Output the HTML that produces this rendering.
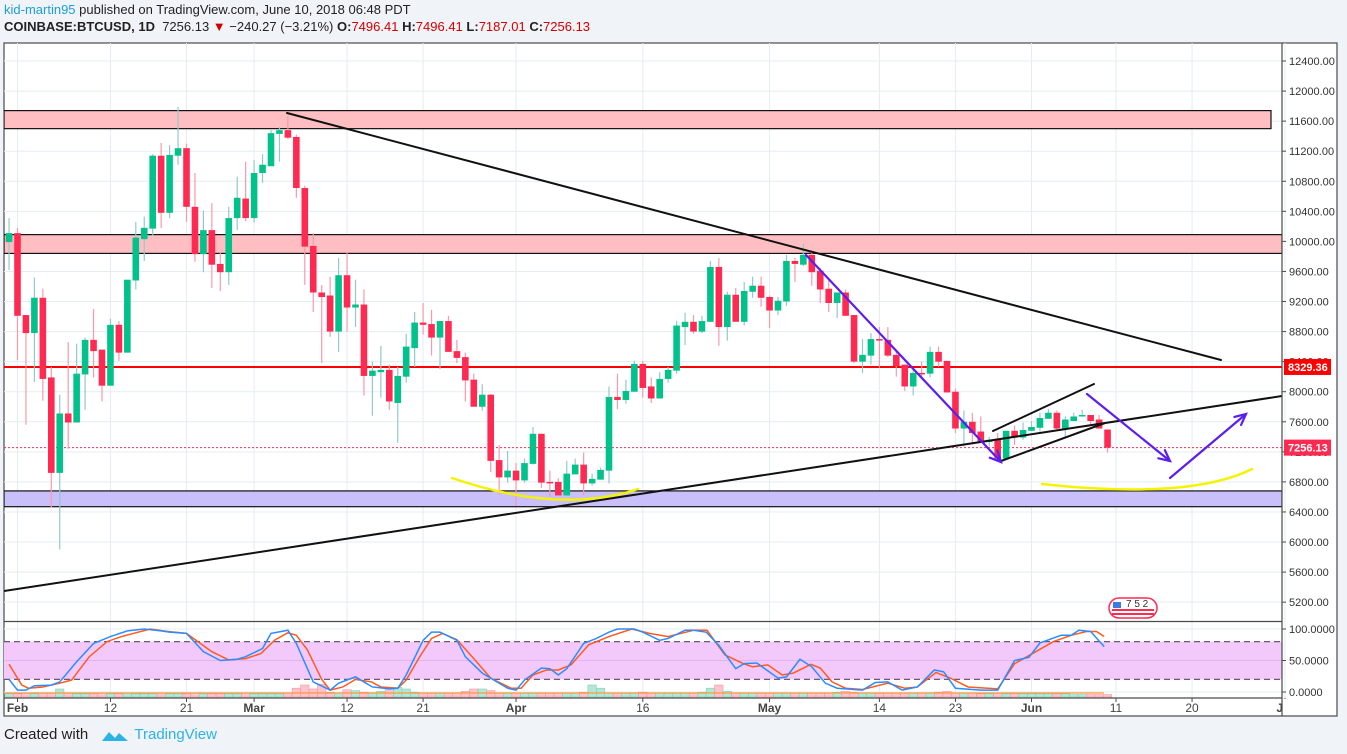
<!DOCTYPE html>
<html><head><meta charset="utf-8">
<style>
html,body{margin:0;padding:0;background:#f0f3f7;width:1347px;height:754px;overflow:hidden;font-family:"Liberation Sans",sans-serif;}
#hdr1{position:absolute;left:4px;top:2px;font-size:13px;color:#222;white-space:nowrap;}
#hdr2{position:absolute;left:4px;top:19px;font-size:13px;color:#222;white-space:nowrap;}
.red{color:#d40000}
#foot{position:absolute;left:4px;top:726px;font-size:15px;color:#222;}
svg{position:absolute;left:0;top:0}
</style></head><body>
<div id="hdr1"><span style="color:#1a9fd9">kid-martin95</span> published on TradingView.com, June 10, 2018 06:48 PDT</div>
<div id="hdr2"><b>COINBASE:BTCUSD, 1D</b>&nbsp; 7256.13 <span class="red">&#9660;</span> −240.27 (−3.21%) <b>O:</b><span class="red">7496.41</span> <b>H:</b><span class="red">7496.41</span> <b>L:</b><span class="red">7187.01</span> <b>C:</b><span class="red">7256.13</span></div>
<div id="foot">Created with <span style="display:inline-block;width:26px;height:12px;vertical-align:middle;margin:0 6px 0 10px;"><svg width="26" height="12" style="position:static"><path d="M0 11 L7 2 L13 8 L17 3 L26 11 Z" fill="#2cb3e6"/></svg></span><span style="color:#2cb3e6">TradingView</span></div>
<svg id="chart" width="1347" height="754"></svg>
<script>
const O=[9990,10110,9020,8780,9250,8190,6920,7710,7590,8230,8690,8560,8080,8890,8520,9480,10030,10170,11140,10380,11140,11240,10460,9830,10150,9700,9590,10310,10570,10310,10910,11000,11430,11480,11390,10710,9940,9320,9280,8800,9550,9120,9160,8210,8260,8290,7850,8200,8580,8920,8900,8720,8940,8540,8460,8160,7800,7960,7090,6860,6950,6820,7040,7440,6800,6800,6620,6900,7030,6780,6830,6950,7930,7890,8000,8370,8070,7910,8170,8280,8860,8930,8800,8930,9660,8860,9290,8930,9330,9410,9260,9080,9200,9740,9690,9820,9610,9370,9180,9320,9020,8400,8480,8700,8690,8490,8360,8070,8250,8240,8530,8410,8000,7510,7600,7470,7330,7360,7110,7480,7390,7480,7520,7640,7720,7510,7610,7670,7690,7630,7496.41];
const H=[10310,10180,9020,9520,9370,8330,7960,8660,8640,8720,9100,8560,8970,8940,9490,10260,10330,11160,11310,11280,11790,11300,10910,10410,10510,9860,10460,10860,11060,11080,11160,11480,11520,11660,11420,10740,10110,9420,9530,9780,9860,9490,9360,8400,8610,8360,8330,8770,9060,9180,9090,8940,9010,8690,8520,8240,8100,7970,7290,7210,7050,7110,7530,7440,6950,6850,7080,7110,7190,6910,6990,8070,8240,8160,8410,8410,8190,8260,8330,8940,9050,9020,9010,9740,9780,9330,9380,9460,9530,9530,9280,9260,9820,9780,9970,9890,9650,9480,9320,9360,9020,8700,8780,8860,8860,8530,8360,8290,8400,8600,8600,8410,8040,7750,7720,7670,7400,7450,7480,7550,7590,7610,7720,7770,7750,7670,7720,7760,7690,7690,7496.41];
const L=[9620,8420,7560,8130,7880,6460,5900,7240,7590,7760,8190,7870,8080,8410,8520,9360,9740,10070,10180,10310,11020,10260,9730,9590,9380,9340,9420,10150,10270,10250,10780,11000,11060,11360,10580,9420,9060,8380,8730,8530,8800,8860,7950,7680,7920,7760,7320,8120,8330,8760,8480,8300,8530,8380,7870,7800,7750,6930,6630,6790,6480,6790,7030,6720,6600,6620,6620,6900,6620,6750,6830,6780,7770,7840,8000,7920,7850,7910,8120,8240,8620,8770,8780,8930,8610,8680,8930,8880,9250,9130,8850,9020,9140,9460,9670,9410,9180,9060,8980,9010,8380,8250,8360,8320,8460,8200,8010,7950,8190,8190,8330,7990,7450,7270,7320,7320,7270,7110,7090,7290,7360,7480,7470,7640,7490,7400,7610,7670,7550,7510,7187.01];
const C=[10110,9010,8780,9250,8170,6920,7710,7590,8240,8690,8540,8080,8890,8520,9490,10050,10180,11140,10380,11150,11240,10460,9830,10150,9690,9590,10310,10580,10310,10910,11020,11440,11480,11380,10710,9930,9320,9260,8800,9550,9120,9160,8210,8280,8290,7870,8210,8600,8920,8890,8720,8940,8530,8450,8150,7800,7960,7080,6860,6950,6820,7050,7440,6790,6790,6620,6910,7030,6780,6840,6960,7930,7890,8010,8370,8050,7910,8170,8290,8880,8930,8800,8940,9660,8860,9290,8930,9340,9410,9250,9080,9210,9740,9700,9820,9590,9360,9180,9320,9010,8400,8490,8700,8680,8480,8340,8070,8250,8240,8530,8400,7990,7510,7600,7450,7330,7360,7110,7480,7390,7490,7530,7650,7720,7510,7630,7670,7690,7610,7510,7256.13];
const VOL=[8,8,10,8,10,10,20,10,8,8,8,10,8,8,10,8,8,8,10,8,8,8,10,8,8,8,8,8,10,8,8,8,8,10,22,30,20,32,12,10,18,16,12,10,14,20,24,20,12,10,10,10,10,10,14,20,20,16,10,10,10,10,10,10,10,10,10,10,12,30,22,10,10,10,10,12,10,10,10,10,10,10,12,22,30,14,10,10,10,10,10,10,10,10,10,10,10,10,12,14,12,10,10,10,10,10,10,10,10,10,12,14,10,10,10,8,8,10,8,8,8,8,8,8,8,8,6,6,6,6,6];
const FIRST_DAY=-1;
const kDay=[-1,0,1,2,4,5,7,9,11,13,15,17,18,20,22,24,26,27,29,30,32,33,35,37,38,40,41,42,44,45,46,48,49,50,52,53,55,58,59,60,62,63,64,65,67,68.5,70,71,73,74,76,77,79,80,81.5,83,85,86,87.5,90,91,92.6,94,95.6,97,100,101.5,103,104.7,106.5,108.5,109.6,111,114,116,118,119.7,121,123.5,124.7,125.6,127,128.6];
const kVal=[20,3,3,10,11,16,48,77,88,97,100,97,95,93,64,50,52,56,69,93,98,77,16,3,14,24,16,8,5,6,27,82,95,95,82,56,30,6,3,19,38,37,27,37,77,85,95,100,100,95,82,85,98,98,95,74,37,45,46,22,24,52,40,14,6,3,15,16,3,8,35,32,6,3,3,50,55,78,90,90,98,96,72];
const dDay=[-1,0.5,1.3,3,5,6.4,8.5,10.6,12.3,15.7,17.8,20,23,25,27,28.8,30.5,32,33,34.3,36,37,38.5,40,41.9,43,45,46,47.6,49,50.3,52,54,56,58.4,59.6,61,62.6,64,65.5,67.6,70,72.7,74.8,77,80,81.6,83.7,85.9,87,88.8,90.5,91.8,93.9,95,96.4,98,100,103,105,106.5,108.7,110.4,112.5,116,118,120.5,122.6,124.7,126.5,127.7,128.6];
const dVal=[44,11,6,8,14,19,56,80,88,100,96,93,64,51,53,61,83,94,90,67,20,3,8,20,16,8,6,19,56,85,93,83,53,22,6,6,27,35,35,43,75,88,100,93,88,98,98,59,45,40,43,27,30,44,38,16,6,4,14,6,8,31,22,8,5,45,64,80,90,96,96,88];
const priceTicks=[12400,12000,11600,11200,10800,10400,10000,9600,9200,8800,8400,8000,7600,7200,6800,6400,6000,5600,5200];
const xLabels=["Feb","12","21","Mar","12","21","Apr","16","May","14","23","Jun","11","20","Jul"];
const xLabelDays=[0,11,20,28,39,48,59,74,89,102,111,120,130,139,150];
const xLabelBold=[1,0,0,1,0,0,1,0,1,0,0,1,0,0,1];
const zones=[[11500,11740,'#ffbcbf',1271],[9840,10090,'#ffbcbf',1282],[6470,6680,'#c6bcfb',1282]];
const resistance=8329.36, lastPrice=7256.13;

const NS='http://www.w3.org/2000/svg';
const svg=document.getElementById('chart');
const yP=p=>61+(12400-p)*0.07516;
const xD=d=>17.5+d*8.45;
const yS=v=>692-v*0.63;
function el(tag,attrs,parent){const e=document.createElementNS(NS,tag);for(const k in attrs)e.setAttribute(k,attrs[k]);(parent||svg).appendChild(e);return e;}

const frame=el('rect',{x:4,y:43,width:1333,height:673,fill:'#fff',stroke:'#4a4a4a','stroke-width':1.2});


const defs=el('defs',{});
const cp=el('clipPath',{id:'mainclip'},defs);el('rect',{x:4,y:43,width:1278,height:578},cp);
const cp2=el('clipPath',{id:'indclip'},defs);el('rect',{x:4,y:622,width:1278,height:76},cp2);

const grid=el('g',{stroke:'#e3edf3','stroke-width':1});


priceTicks.forEach(p=>{el('line',{x1:4,x2:1282,y1:yP(p),y2:yP(p)},grid);});
[629,661,692].forEach(y=>el('line',{x1:4,x2:1282,y1:y,y2:y},grid));
xLabelDays.forEach(d=>{el('line',{x1:xD(d),x2:xD(d),y1:43,y2:698},grid);});

const main=el('g',{'clip-path':'url(#mainclip)'});
zones.forEach((z,i)=>{
  const r=el('rect',{x:4,y:yP(z[1]),width:z[3]-4,height:yP(z[0])-yP(z[1]),fill:z[2],'fill-opacity':0.95,stroke:'#111','stroke-width':1.2},main);
  
  
});
const rl=el('line',{x1:4,x2:1282,y1:yP(resistance),y2:yP(resistance),stroke:'#ff0000','stroke-width':2},main);


const pl=el('line',{x1:4,x2:1282,y1:yP(lastPrice),y2:yP(lastPrice),stroke:'#ff2b51','stroke-width':1,'stroke-dasharray':'2,2'},main);



const cg=el('g',{},main);


for(let i=0;i<O.length;i++){
  const x=xD(FIRST_DAY+i), up=C[i]>=O[i];
  const w=el('line',{x1:x,x2:x,y1:yP(H[i]),y2:yP(L[i]),stroke:up?'#93c8cd':'#f79aab','stroke-width':1.2},cg);
  
  
  const t=yP(Math.max(O[i],C[i])), b=yP(Math.min(O[i],C[i]));
  const r=el('rect',{x:x-3.3,y:t,width:6.6,height:Math.max(1.5,b-t),fill:up?'#00c28a':'#ff2a52'},cg);
  
  
}
const dr=el('g',{fill:'none','stroke-linecap':'round'},main);


function ln(x1,y1,x2,y2,c,w,name){const l=el('line',{x1,y1,x2,y2,stroke:c,'stroke-width':w},dr);return l;}
ln(287,113,1221,360,'#111',2,'downtrend-line');
ln(4,591,1282,396,'#111',2,'uptrend-line');
ln(993,431,1094,384,'#111',2,'channel-upper');
ln(1001,461,1105,423,'#111',2,'channel-lower');
const blue='#5a1ef0';
function arrow(x1,y1,x2,y2,name){ln(x1,y1,x2,y2,blue,2.2,name);const a=Math.atan2(y2-y1,x2-x1),s=12;
  const p=el('path',{d:`M${x2-s*Math.cos(a-0.45)} ${y2-s*Math.sin(a-0.45)} L${x2} ${y2} L${x2-s*Math.cos(a+0.45)} ${y2-s*Math.sin(a+0.45)}`,stroke:blue,'stroke-width':2.2},dr);
  }
arrow(806,255,1001,462,'drop-arrow');
arrow(1087,394,1170,461,'projection-down-arrow');
arrow(1170,478,1246,414,'projection-up-arrow');
const y1=el('path',{d:'M452 478 Q 560 515 638 489',stroke:'#f4f400','stroke-width':2.5},dr);


const y2=el('path',{d:'M1042 484 Q 1190 500 1252 469',stroke:'#f4f400','stroke-width':2.5},dr);


const fl=el('g',{},main);


el('rect',{x:1109,y:598,width:48,height:20,rx:10,fill:'#fff',stroke:'#ff2a52','stroke-width':1.5},fl);
el('rect',{x:1113,y:602,width:8,height:6,fill:'#3d7be0'},fl);
el('path',{d:'M1112 610 H1154 M1112 614 H1154',stroke:'#ff2a52','stroke-width':2},fl);
const ft=el('text',{x:1126,y:607,'font-size':10,fill:'#333','font-family':'Liberation Sans, sans-serif'},fl);ft.textContent='7 5 2';

el('line',{x1:4,x2:1282,y1:621.5,y2:621.5,stroke:'#4a4a4a','stroke-width':1.2});

const ind=el('g',{'clip-path':'url(#indclip)'});


el('rect',{x:4,y:yS(80),width:1278,height:yS(20)-yS(80),fill:'#f3c9fb'},ind);
el('line',{x1:4,x2:1282,y1:yS(50),y2:yS(50),stroke:'#dcb6f0','stroke-width':1},ind);
[80,20].forEach(v=>el('line',{x1:4,x2:1282,y1:yS(v),y2:yS(v),stroke:'#6a5a70','stroke-width':1.2,'stroke-dasharray':'6,4'},ind));
for(let i=0;i<VOL.length;i++){
  const up=C[i]>=O[i],h=VOL[i]*0.4;
  const r=el('rect',{x:xD(FIRST_DAY+i)-4.2,y:697-h,width:8.4,height:h,fill:up?'#a8e3cf':'#ffb8c2',stroke:up?'#7fd3b5':'#f597a6','stroke-width':0.6,'fill-opacity':0.85},ind);
  
  
}
el('line',{x1:4,x2:1104,y1:693,y2:693,stroke:'#ff9a3c','stroke-width':1.2},ind);
function poly(days,vals,color,name){const p=el('polyline',{points:days.map((d,i)=>xD(d)+','+yS(vals[i])).join(' '),fill:'none',stroke:color,'stroke-width':1.5},ind);}
poly(dDay,dVal,'#ff5a1f','stoch-d-line');
poly(kDay,kVal,'#2b8cff','stoch-k-line');

el('line',{x1:1282,x2:1282,y1:43,y2:716,stroke:'#4a4a4a','stroke-width':1.2});
el('line',{x1:4,x2:1282,y1:698,y2:698,stroke:'#4a4a4a','stroke-width':1.2});
const ax=el('g',{'font-family':'Liberation Sans, sans-serif','font-size':11,fill:'#333'});


priceTicks.forEach(p=>{el('line',{x1:1282,x2:1286,y1:yP(p),y2:yP(p),stroke:'#4a4a4a'},ax);const t=el('text',{x:1289,y:yP(p)+4},ax);t.textContent=p.toFixed(2);});
[[100,'100.0000'],[50,'50.0000'],[0,'0.0000']].forEach(a=>{el('line',{x1:1282,x2:1286,y1:yS(a[0]),y2:yS(a[0]),stroke:'#4a4a4a'},ax);const t=el('text',{x:1289,y:yS(a[0])+4},ax);t.textContent=a[1];});
function tag(p,bg,name){const g=el('g',{},ax);
  el('rect',{x:1284,y:yP(p)-8,width:47,height:16,fill:bg},g);
  const t=el('text',{x:1288,y:yP(p)+4,fill:'#fff','font-weight':'bold'},g);t.textContent=p.toFixed(2);}
tag(resistance,'#ff0000','resistance-price-tag');
tag(lastPrice,'#ff2a52','last-price-tag');
const xa=el('g',{'font-family':'Liberation Sans, sans-serif','font-size':12,fill:'#444','text-anchor':'middle'});


xLabels.forEach((s,i)=>{const x=xD(xLabelDays[i]);el('line',{x1:x,x2:x,y1:698,y2:702,stroke:'#4a4a4a'},xa);
  const t=el('text',{x:x,y:712,'font-weight':xLabelBold[i]?'bold':'normal'},xa);t.textContent=s;});
el('rect',{x:1283,y:699,width:53,height:16,fill:'#fff'});
</script>
</body></html>
